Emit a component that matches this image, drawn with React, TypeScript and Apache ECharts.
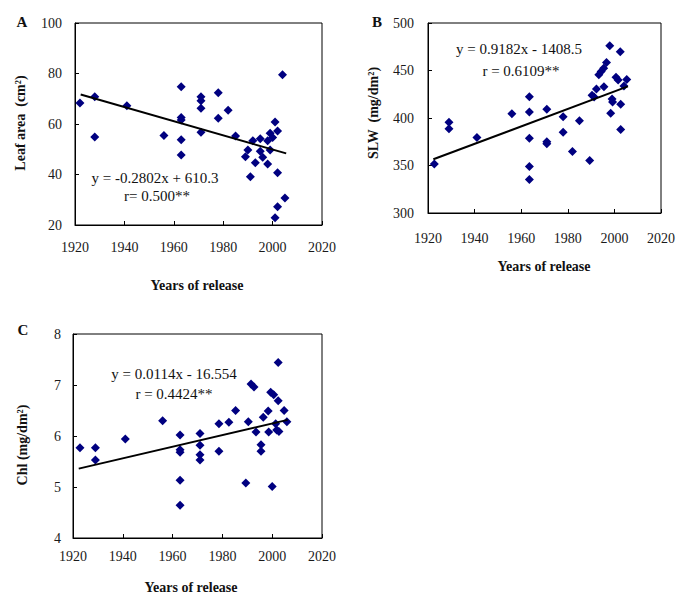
import React, { useEffect, useRef } from "react";
import * as echarts from "echarts";

// Panel A: leaf area (cm²) vs year of release
const aYears = [1922, 1928, 1928, 1941, 1956, 1963, 1963, 1963, 1963, 1963, 1971, 1971, 1971, 1971, 1978, 1978, 1982, 1985, 1989, 1990, 1991, 1992, 1993, 1995, 1995, 1996, 1998, 1998, 1999, 1999, 2000, 2001, 2002, 2002, 2004, 2005, 2002, 2001];
const aValues = [68.3, 70.8, 54.9, 67.2, 55.4, 74.8, 62.6, 61.6, 53.8, 47.7, 70.8, 69.2, 66.2, 56.7, 72.4, 62.3, 65.4, 55.2, 47.0, 49.7, 39.1, 53.4, 44.7, 54.2, 49.2, 46.8, 53.4, 44.2, 56.3, 49.7, 54.7, 60.8, 57.2, 40.7, 79.5, 30.7, 27.2, 22.9];

// Panel B: SLW (mg/dm²)
const bYears = [1922.7, 1929, 1929, 1941, 1956, 1963.5, 1963.5, 1963.5, 1963.5, 1963.5, 1971, 1971, 1971, 1978, 1978, 1982, 1985, 1989.4, 1990.4, 1991.3, 1992.3, 1993.3, 1994.3, 1995.4, 1996.6, 1995.5, 1998, 1998.4, 1999, 1999.2, 2000.7, 2001.6, 2002.5, 2002.7, 2002.7, 2005.3, 2004.1];
const bValues = [351.7, 395.5, 388.7, 379.6, 404.5, 422.5, 406.3, 378.6, 349, 335.3, 409.2, 375, 372.9, 401.4, 384.9, 364.8, 397.1, 355.3, 424, 422, 430.6, 445.4, 448.9, 452.5, 458.4, 433, 476, 405, 420, 416.8, 443, 440, 469.7, 414.5, 387.8, 440.5, 433.8];

// Panel C: Chl (mg/dm²)
const cYears = [1922.8, 1929, 1929, 1941, 1956, 1963, 1963, 1963, 1963, 1963, 1971, 1971, 1971, 1971, 1978.6, 1978.6, 1982.6, 1985.3, 1989.4, 1990.4, 1991.5, 1992.7, 1993.5, 1995.5, 1995.5, 1996.4, 1998.4, 1998.6, 1999.4, 2000.6, 2000, 2001.4, 2001.8, 2002.7, 2002.4, 2002.4, 2004.8, 2005.9];
const cValues = [5.77, 5.77, 5.53, 5.94, 6.30, 6.02, 5.73, 5.68, 5.13, 4.64, 6.05, 5.82, 5.63, 5.53, 6.24, 5.70, 6.27, 6.50, 5.08, 6.28, 7.02, 6.96, 6.08, 5.83, 5.70, 6.37, 6.49, 6.08, 6.86, 6.81, 5.01, 6.24, 6.12, 6.09, 6.69, 7.44, 6.50, 6.28];

// Linear fits (slope, intercept) and drawn x range
const fitSlopes = [-0.2802, 0.9182, 0.0114];
const fitIntercepts = [610.3, -1408.5, -16.554];
const fitStarts = [1922.3, 1922.3, 1922.3];
const fitEnds = [2005.5, 2005.8, 2006.2];

const equations = ["y = -0.2802x + 610.3", "y = 0.9182x - 1408.5", "y = 0.0114x - 16.554"];
const rLabels = ["r= 0.500**", "r = 0.6109**", "r = 0.4424**"];
const panelLetters = ["A", "B", "C"];
const yNames = ["Leaf area  (cm²)", "SLW  (mg/dm²)", "Chl (mg/dm²)"];
const xName = "Years of release";

const yMins = [20, 300, 4];
const yMaxs = [100, 500, 8];
const yIntervals = [20, 50, 1];
const xMin = 1920;
const xMax = 2020;
const xInterval = 20;

const FONT = "Liberation Serif, Times New Roman, serif";

export default function App() {
  const ref = useRef<HTMLDivElement>(null);

  useEffect(() => {
    if (!ref.current) return;
    const chart = echarts.init(ref.current, undefined, { renderer: "svg" });

    const grids = [
      { left: 75, top: 23, width: 247, height: 202 },
      { left: 428, top: 23, width: 235, height: 190 },
      { left: 73, top: 334, width: 249, height: 204 },
    ];
    const xLabelMargins = [15, 18, 11];
    const yLabelMargins = [13, 14, 12];

    const datasets = [
      [aYears, aValues],
      [bYears, bValues],
      [cYears, cValues],
    ];

    const xAxes = grids.map((_, i) => ({
      type: "value",
      gridIndex: i,
      min: xMin,
      max: xMax,
      interval: xInterval,
      axisLine: { show: true, lineStyle: { color: "#000", width: 1 } },
      axisTick: { show: true, inside: true, length: 4, lineStyle: { color: "#000" } },
      axisLabel: {
        color: "#1a1a1a",
        fontFamily: FONT,
        fontSize: 14,
        margin: xLabelMargins[i],
        formatter: (v: number) => String(Math.round(v)),
      },
      splitLine: { show: false },
    }));
    const yAxes = grids.map((_, i) => ({
      type: "value",
      gridIndex: i,
      min: yMins[i],
      max: yMaxs[i],
      interval: yIntervals[i],
      axisLine: { show: true, lineStyle: { color: "#000", width: 1 } },
      axisTick: { show: true, inside: true, length: 4, lineStyle: { color: "#000" } },
      axisLabel: {
        color: "#1a1a1a",
        fontFamily: FONT,
        fontSize: 14,
        margin: yLabelMargins[i],
        formatter: (v: number) => String(v),
      },
      splitLine: { show: false },
    }));

    const series: any[] = [];
    datasets.forEach(([xs, ys], i) => {
      series.push({
        type: "scatter",
        xAxisIndex: i,
        yAxisIndex: i,
        symbol: "diamond",
        symbolSize: 9,
        itemStyle: { color: "#000080", opacity: 1 },
        data: xs.map((x, k) => [x, ys[k]]),
        z: 3,
      });
      const fx = [fitStarts[i], fitEnds[i]];
      series.push({
        type: "line",
        xAxisIndex: i,
        yAxisIndex: i,
        symbol: "none",
        lineStyle: { color: "#000", width: 2 },
        data: fx.map((x) => [x, fitSlopes[i] * x + fitIntercepts[i]]),
        z: 4,
      });
    });

    const textStyle = (fs: number, bold = false) => ({
      fill: "#111",
      fontFamily: FONT,
      fontSize: fs,
      fontWeight: bold ? "bold" : "normal",
    });

    const eqPos = [
      [155, 178, 157, 196],
      [519, 49, 521, 71],
      [174, 374, 174, 394],
    ];
    const letterPos = [
      [22, 22],
      [377, 22],
      [23, 330],
    ];
    const yNamePos = [
      [20, 123],
      [373, 113],
      [22, 445],
    ];
    const xNamePos = [
      [197, 285],
      [544, 266],
      [191, 587],
    ];

    const graphic: any[] = [];
    for (let i = 0; i < 3; i++) {
      graphic.push({
        type: "text",
        x: eqPos[i][0],
        y: eqPos[i][1],
        style: { ...textStyle(15), text: equations[i], align: "center", verticalAlign: "middle" },
        z: 10,
      });
      graphic.push({
        type: "text",
        x: eqPos[i][2],
        y: eqPos[i][3],
        style: { ...textStyle(15), text: rLabels[i], align: "center", verticalAlign: "middle" },
        z: 10,
      });
      graphic.push({
        type: "text",
        x: letterPos[i][0],
        y: letterPos[i][1],
        style: { ...textStyle(15, true), text: panelLetters[i], align: "center", verticalAlign: "middle" },
      });
      graphic.push({
        type: "text",
        x: yNamePos[i][0],
        y: yNamePos[i][1],
        rotation: Math.PI / 2,
        style: { ...textStyle(14, true), text: yNames[i], align: "center", verticalAlign: "middle" },
      });
      graphic.push({
        type: "text",
        x: xNamePos[i][0],
        y: xNamePos[i][1],
        style: { ...textStyle(14, true), text: xName, align: "center", verticalAlign: "middle" },
      });
    }

    chart.setOption({
      animation: false,
      backgroundColor: "#fff",
      grid: grids.map((g) => ({ ...g, show: true, borderColor: "#000", borderWidth: 1, backgroundColor: "transparent" })),
      xAxis: xAxes,
      yAxis: yAxes,
      series,
      graphic,
    });

    return () => chart.dispose();
  }, []);

  return (
    <div
      ref={ref}
      style={{ position: "fixed", left: 0, top: 0, width: 678, height: 595, background: "#fff" }}
    />
  );
}
